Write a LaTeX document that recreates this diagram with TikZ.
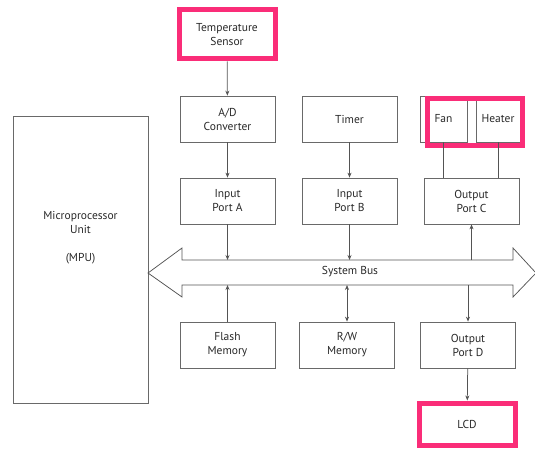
\documentclass[tikz,border=0pt]{standalone}
\usepackage{fontspec}
\setmainfont{PT Sans}
\usetikzlibrary{positioning,arrows.meta}
\definecolor{hotpink}{RGB}{250,45,120}
\definecolor{boxgray}{RGB}{105,105,105}
\definecolor{txtgray}{RGB}{40,40,40}

\begin{document}
\begin{tikzpicture}[x=1pt,y=-1pt,>={Stealth[length=5pt,width=4pt]},node distance=122pt,
        blk/.style={draw=boxgray,line width=0.75pt,minimum width=95pt,minimum height=46pt,
                    inner sep=0pt,align=center,text=txtgray,font=\fontsize{11.5}{14}\selectfont},
        hot/.style={draw=hotpink,line width=5pt,inner sep=0pt,align=center,text=txtgray,
                    font=\fontsize{11.5}{14}\selectfont},
        wire/.style={draw=boxgray!80!black,line width=0.75pt}]
        \useasboundingbox (0,0) rectangle (535,449);

        % top row
        \node[hot,minimum width=96pt,minimum height=49pt] (sensor) at (227,34.5) {Temperature\\Sensor};
        \node[blk] (adc) at (227.5,119) {A/D\\Converter};
        \node[blk] (timer) [right of=adc] {Timer};
        \node[blk,minimum width=47pt] (fan) at (443.5,119) {Fan};
        \node[blk,minimum width=44pt] (heater) at (498,119) {Heater};
        \node[hot,minimum width=95pt,minimum height=47pt] (fh) at (474.5,122.5) {};

        % ports
        \node[blk] (inA) at (227.5,201) {Input\\Port A};
        \node[blk] (inB) [right of=inA] {Input\\Port B};
        \node[blk] (outC) at (471.5,201) {Output\\Port C};

        % memories
        \node[blk] (flash) at (227.5,345) {Flash\\Memory};
        \node[blk] (rw) at (347,345) {R/W\\Memory};
        \node[blk] (outD) at (468,345) {Output\\Port D};
        \node[hot,minimum width=96pt,minimum height=42pt] (lcd) at (467,424) {LCD};

        % MPU
        \node[blk,minimum width=135pt,minimum height=287pt] (mpu) at (80.5,259.5) {};
        \node[align=center,text=txtgray,font=\fontsize{11.5}{14}\selectfont]
                (mputxt) at ([yshift=22pt]mpu.center) {Microprocessor\\Unit\\[14pt](MPU)};

        % system bus
        \draw[wire] (148,273) -- (182,248) -- (182,260) -- (513,260) -- (513,248) -- (536,273)
                    -- (513,297) -- (513,285) -- (182,285) -- (182,297) -- cycle;
        \coordinate (bt) at (0,260);
        \coordinate (bb) at (0,285);
        \node[text=txtgray,font=\fontsize{11.5}{14}\selectfont] (bus) at (350,272) {System Bus};

        \path[->,every edge/.style={wire}]
                       (sensor) edge (adc)
                       (adc) edge (inA)
                       (timer) edge (inB)
                       (inA) edge (inA |- bt)
                       (inB) edge (inB |- bt)
                       (flash) edge (flash |- bb)
                       (rw) edge[<->] (rw |- bb)
                       (outD |- bb) edge (outD)
                       (outC |- bt) edge (outC)
                       (outD) edge (lcd);
        \draw[wire] (fan.south) -- (fan.south |- outC.north)
                    (heater.south) -- (heater.south |- outC.north);
\end{tikzpicture}
\end{document}
